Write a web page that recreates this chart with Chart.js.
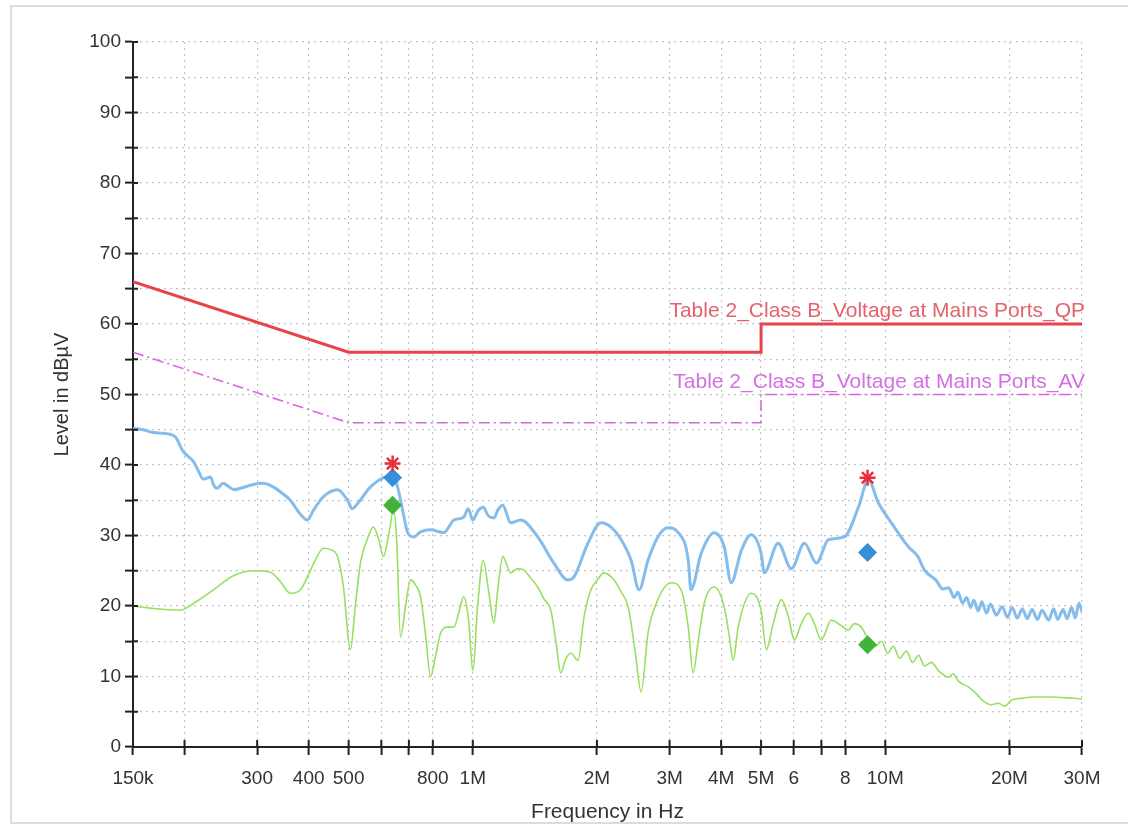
<!DOCTYPE html>
<html>
<head>
<meta charset="utf-8">
<script src="https://cdn.jsdelivr.net/npm/chart.js@4.4.0/dist/chart.umd.min.js"></script>
<style>
  body { margin: 0; background: #fff; }
  #wrap { position: relative; width: 1128px; height: 825px; overflow: hidden; }
  #frame { position: absolute; left: 10px; top: 5px; width: 1130px; height: 815px;
           border: 2px solid #dcdcdc; border-right: none; pointer-events: none; }
</style>
</head>
<body>
<div id="wrap">
  <canvas id="emcChart" width="1128" height="825"></canvas>
  <div id="frame"></div>
</div>
<script>
// ticks of the frequency axis
const xTickValues = [150e3, 200e3, 300e3, 400e3, 500e3, 600e3, 700e3, 800e3, 1e6, 2e6, 3e6, 4e6, 5e6, 6e6, 7e6, 8e6, 10e6, 20e6, 30e6];
const xTickLabels = ['150k', '', '300', '400', '500', '', '', '800', '1M', '2M', '3M', '4M', '5M', '6', '', '8', '10M', '20M', '30M'];

// limit lines [MHz, dBµV]
const limitQP = [[0.15, 66], [0.5, 56], [5, 56], [5, 60], [30, 60]];
const limitAV = [[0.15, 56], [0.5, 46], [5, 46], [5, 50], [30, 50]];
const labelQP = 'Table 2_Class B_Voltage at Mains Ports_QP';
const labelAV = 'Table 2_Class B_Voltage at Mains Ports_AV';

// peak scan (blue) [MHz, dBµV]
const peakTrace = [
  [0.150, 45.2], [0.159, 45.0], [0.168, 44.6], [0.177, 44.5], [0.190, 44.0], [0.198, 42.0], [0.210, 40.5],
  [0.216, 39.2], [0.222, 38.0], [0.231, 38.3], [0.236, 37.0], [0.240, 36.7], [0.248, 37.4], [0.255, 37.0],
  [0.264, 36.5], [0.273, 36.7], [0.292, 37.2], [0.310, 37.4], [0.328, 36.9], [0.345, 36.0], [0.361, 35.0],
  [0.382, 33.0], [0.397, 32.2], [0.411, 33.6], [0.434, 35.5], [0.470, 36.5], [0.497, 35.0], [0.510, 33.8],
  [0.525, 34.5], [0.565, 36.9], [0.607, 38.2], [0.639, 38.5], [0.657, 36.9], [0.679, 33.0], [0.695, 30.4],
  [0.718, 29.8], [0.747, 30.5], [0.790, 30.8], [0.850, 30.4], [0.900, 32.2], [0.950, 32.6], [0.975, 33.8],
  [1.000, 32.2], [1.030, 33.5], [1.060, 34.0], [1.090, 32.8], [1.125, 32.5], [1.150, 33.6], [1.182, 34.3],
  [1.236, 31.8], [1.307, 32.2], [1.437, 29.8], [1.572, 26.1], [1.700, 23.7], [1.758, 24.1], [1.902, 28.9],
  [2.045, 31.8], [2.163, 31.2], [2.290, 29.4], [2.420, 26.5], [2.530, 22.3], [2.660, 26.5], [2.810, 29.8],
  [2.970, 31.1], [3.150, 30.4], [3.330, 26.5], [3.380, 22.3], [3.580, 27.5], [3.850, 30.4], [4.070, 28.4],
  [4.230, 23.3], [4.480, 27.9], [4.730, 30.1], [5.000, 27.5], [5.090, 24.7], [5.500, 28.9], [5.920, 25.3],
  [6.370, 28.9], [6.810, 26.1], [7.280, 29.4], [7.960, 29.8], [8.610, 34.0], [9.100, 37.9], [9.630, 34.6],
  [10.35, 31.8], [11.38, 28.4], [12.00, 27.0], [12.45, 25.1], [13.3, 23.6], [13.8, 22.4], [14.25, 22.6],
  [14.7, 21.2], [15.0, 22.0], [15.4, 20.4], [15.75, 21.2], [16.1, 19.8], [16.4, 20.8], [16.8, 19.3],
  [17.15, 20.6], [17.6, 19.0], [18.0, 20.3], [18.6, 18.7], [19.2, 19.9], [19.8, 18.4], [20.3, 19.8],
  [20.9, 18.3], [21.5, 19.6], [22.1, 18.2], [22.7, 19.5], [23.4, 18.1], [24.0, 19.4], [24.9, 18.0],
  [25.6, 19.6], [26.2, 18.1], [27.0, 19.5], [27.6, 18.2], [28.3, 19.8], [28.9, 18.3], [29.5, 20.4], [30.0, 19.2]
];

// average scan (green) [MHz, dBµV]
const avgTrace = [
  [0.150, 20.0], [0.165, 19.7], [0.195, 19.4], [0.212, 20.5], [0.235, 22.3], [0.263, 24.3], [0.294, 25.0],
  [0.323, 24.8], [0.341, 23.5], [0.361, 21.8], [0.382, 22.3], [0.397, 24.1], [0.415, 26.5], [0.434, 28.2],
  [0.452, 28.0], [0.470, 27.0], [0.485, 23.0], [0.505, 13.8], [0.519, 20.0], [0.534, 26.1], [0.555, 29.5],
  [0.574, 31.2], [0.591, 29.5], [0.607, 27.0], [0.625, 30.0], [0.642, 33.5], [0.653, 30.0], [0.668, 15.6],
  [0.687, 20.0], [0.706, 23.7], [0.726, 23.0], [0.747, 21.3], [0.768, 16.0], [0.790, 10.0], [0.813, 13.0],
  [0.836, 16.2], [0.869, 17.0], [0.900, 17.0], [0.924, 19.0], [0.950, 21.3], [0.977, 18.0], [1.000, 10.8],
  [1.027, 19.9], [1.060, 26.5], [1.093, 22.0], [1.125, 17.6], [1.148, 22.0], [1.182, 27.0], [1.236, 24.7],
  [1.286, 25.3], [1.330, 25.1], [1.380, 24.0], [1.437, 22.7], [1.487, 21.0], [1.546, 19.4], [1.590, 15.0],
  [1.634, 10.5], [1.680, 12.5], [1.730, 13.3], [1.800, 12.3], [1.860, 18.4], [1.934, 22.3], [2.010, 23.8],
  [2.080, 24.7], [2.200, 23.7], [2.290, 22.0], [2.380, 19.9], [2.470, 14.0], [2.560, 7.8], [2.660, 16.2],
  [2.810, 20.9], [3.030, 23.3], [3.200, 22.3], [3.330, 17.0], [3.420, 10.5], [3.520, 15.0], [3.640, 20.4],
  [3.850, 22.7], [4.070, 19.9], [4.180, 16.0], [4.280, 12.3], [4.400, 17.0], [4.730, 21.8], [5.000, 19.4],
  [5.150, 13.8], [5.350, 17.5], [5.600, 20.9], [5.820, 18.5], [6.020, 15.2], [6.260, 17.5], [6.510, 19.0],
  [6.730, 17.5], [7.000, 15.2], [7.400, 18.0], [7.830, 17.2], [8.140, 16.6], [8.420, 17.5], [8.750, 17.0],
  [9.060, 15.5], [9.420, 14.2], [9.800, 15.0], [10.13, 13.3], [10.47, 14.3], [10.83, 12.6], [11.26, 13.6],
  [11.64, 12.0], [12.05, 13.0], [12.45, 11.5], [12.95, 12.0], [13.47, 10.8], [14.25, 9.9], [14.6, 10.4],
  [15.07, 9.3], [15.93, 8.5], [16.67, 7.5], [17.15, 6.7], [18.1, 6.0], [18.8, 6.2], [19.5, 5.8], [20.3, 6.7],
  [21.4, 6.9], [22.7, 7.1], [25.3, 7.1], [27.2, 7.0], [30.0, 6.8]
];

// final measurement markers [MHz, dBµV]
const finalQP = [[0.639, 40.2], [9.06, 38.2]];
const finalPeakAV = [[0.639, 38.2], [9.06, 27.6]];
const finalAV = [[0.639, 34.3], [9.06, 14.5]];

const toXY = arr => arr.map(p => ({ x: p[0] * 1e6, y: p[1] }));
const FONT = '"Liberation Sans", Arial, sans-serif';

// write limit names above the right end of the limit lines
const limitLabels = {
  id: 'limitLabels',
  afterDatasetsDraw(chart) {
    const { ctx, scales: { x, y } } = chart;
    ctx.save();
    ctx.font = '21px ' + FONT;
    ctx.textAlign = 'right';
    ctx.textBaseline = 'middle';
    ctx.fillStyle = '#e4636b';
    ctx.fillText(labelQP, x.getPixelForValue(30e6) + 3, y.getPixelForValue(limitQP[4][1]) - 13);
    ctx.fillStyle = '#d370e2';
    ctx.fillText(labelAV, x.getPixelForValue(30e6) + 3, y.getPixelForValue(limitAV[4][1]) - 12);
    ctx.restore();
  }
};

// tick marks cross the axis line
const innerTicks = {
  id: 'innerTicks',
  afterDraw(chart) {
    const { ctx, scales: { x, y } } = chart;
    ctx.save();
    ctx.strokeStyle = '#222';
    ctx.lineWidth = 2;
    ctx.beginPath();
    x.ticks.forEach(t => {
      const px = x.getPixelForValue(t.value);
      ctx.moveTo(px, x.top);
      ctx.lineTo(px, x.top - 7);
    });
    y.ticks.forEach(t => {
      const py = y.getPixelForValue(t.value);
      ctx.moveTo(y.right, py);
      ctx.lineTo(y.right + 5, py);
    });
    ctx.stroke();
    ctx.restore();
  }
};

const ctx = document.getElementById('emcChart').getContext('2d');
new Chart(ctx, {
  type: 'line',
  data: {
    datasets: [
      {
        label: 'QP final',
        data: toXY(finalQP),
        showLine: false,
        pointStyle: 'star',
        pointRadius: 8,
        borderColor: '#e8303a',
        borderWidth: 2.5
      },
      {
        label: 'Peak final',
        data: toXY(finalPeakAV),
        showLine: false,
        pointStyle: 'rectRot',
        pointRadius: 9,
        backgroundColor: '#3590d8',
        borderColor: '#3590d8'
      },
      {
        label: 'AV final',
        data: toXY(finalAV),
        showLine: false,
        pointStyle: 'rectRot',
        pointRadius: 9,
        backgroundColor: '#40b43a',
        borderColor: '#40b43a'
      },
      {
        label: labelQP,
        data: toXY(limitQP),
        borderColor: '#e8434b',
        borderWidth: 3,
        pointRadius: 0
      },
      {
        label: labelAV,
        data: toXY(limitAV),
        borderColor: '#d866e0',
        borderWidth: 1.6,
        borderDash: [11, 4, 2, 4],
        pointRadius: 0
      },
      {
        label: 'Peak',
        data: toXY(peakTrace),
        borderColor: '#84bcec',
        borderWidth: 3,
        cubicInterpolationMode: 'monotone',
        pointRadius: 0
      },
      {
        label: 'Average',
        data: toXY(avgTrace),
        borderColor: '#96e062',
        borderWidth: 1.6,
        cubicInterpolationMode: 'monotone',
        pointRadius: 0
      }
    ]
  },
  options: {
    responsive: false,
    animation: false,
    layout: { padding: { left: 0, right: 46, top: 42, bottom: 0 } },
    scales: {
      x: {
        type: 'logarithmic',
        min: 150e3,
        max: 30e6,
        afterBuildTicks: s => { s.ticks = xTickValues.map(v => ({ value: v })); },
        afterFit: s => { s.height = 78; },
        ticks: {
          autoSkip: false,
          maxRotation: 0,
          padding: 12,
          color: '#333',
          font: { family: FONT, size: 19 },
          callback: (v, i) => xTickLabels[i]
        },
        grid: {
          color: '#c4c4c4',
          lineWidth: 1.2,
          tickColor: '#222',
          tickLength: 8,
          tickWidth: 2
        },
        border: { color: '#222', width: 2, dash: [2, 4] },
        title: {
          display: true,
          text: 'Frequency in Hz',
          color: '#333',
          font: { family: FONT, size: 21 },
          padding: { top: 0, bottom: 0 }
        }
      },
      y: {
        min: 0,
        max: 100,
        afterFit: s => { s.width = 133; },
        ticks: {
          stepSize: 5,
          padding: 4,
          color: '#333',
          font: { family: FONT, size: 19 },
          callback: v => (v % 10 === 0 ? String(v) : '')
        },
        grid: {
          color: '#c4c4c4',
          lineWidth: 1.2,
          tickColor: '#222',
          tickLength: 8,
          tickWidth: 2
        },
        border: { color: '#222', width: 2, dash: [2, 4] },
        title: {
          display: true,
          text: 'Level in dBµV',
          color: '#333',
          font: { family: FONT, size: 20 },
          padding: { top: 50, bottom: 0 }
        }
      }
    },
    plugins: {
      legend: { display: false },
      tooltip: { enabled: false }
    }
  },
  plugins: [limitLabels, innerTicks]
});
</script>
</body>
</html>
